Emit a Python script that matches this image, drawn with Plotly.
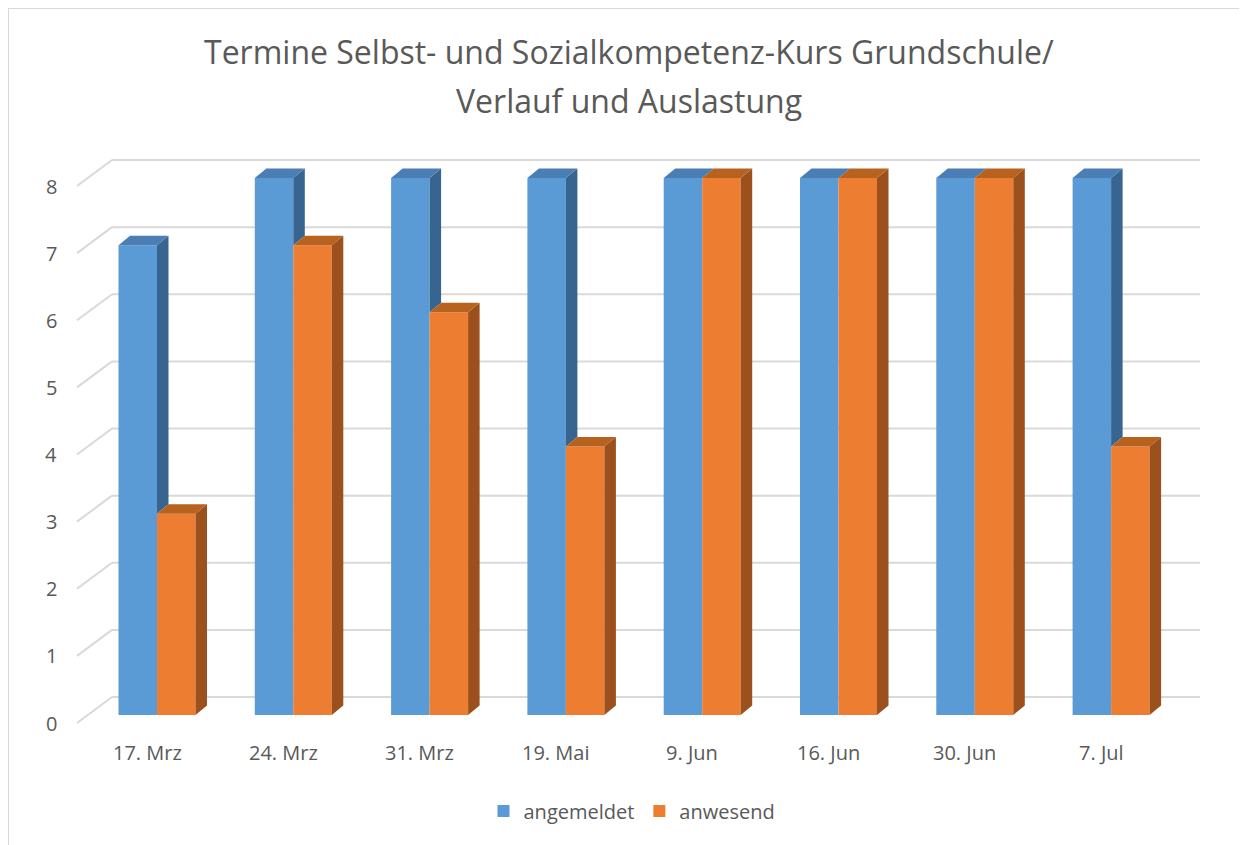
import plotly.graph_objects as go

# ---- data ----
categories = ["17. Mrz", "24. Mrz", "31. Mrz", "19. Mai", "9. Jun", "16. Jun", "30. Jun", "7. Jul"]
angemeldet = [7, 8, 8, 8, 8, 8, 8, 8]
anwesend = [3, 7, 6, 4, 8, 8, 8, 4]
y_ticks = [0, 1, 2, 3, 4, 5, 6, 7, 8]
title_lines = ["Termine Selbst- und Sozialkompetenz-Kurs Grundschule/", "Verlauf und Auslastung"]

# ---- geometry (page-pixel calibration; the page body adds an 8px margin) ----
W, H = 1247, 845
PAGE = 8
X0PX, XSTEP = 157.0, 136.3     # page pixel of category 0 centre, pixels per category
Y0PX, YSTEP = 715.0, 67.125    # page pixel of value 0, pixels per unit


def xv(p):
    return (p - X0PX) / XSTEP


def yv(p):
    return (Y0PX - p) / YSTEP


def px_paper_x(p):
    return (p - PAGE) / W


def px_paper_y(p):
    return 1 - (p - PAGE) / H


BW = 38.5 / XSTEP
DX = 11.5 / XSTEP
DY = 9.5 / YSTEP

FONT = "'Open Sans', sans-serif"
TXT = "#595959"

BLUE, BLUE_SIDE, BLUE_TOP = "#5B9BD5", "#386490", "#4A7EB5"
ORG, ORG_SIDE, ORG_TOP = "#ED7D31", "#9C501D", "#B8621F"

fig = go.Figure()

# front faces
fig.add_trace(go.Bar(x=list(range(len(categories))), y=angemeldet, width=BW, offset=-BW,
                     marker=dict(color=BLUE, line=dict(width=0)), name="angemeldet"))
fig.add_trace(go.Bar(x=list(range(len(categories))), y=anwesend, width=BW, offset=0,
                     marker=dict(color=ORG, line=dict(width=0)), name="anwesend"))


def side_poly(xr_, y0, y1):
    return ([xr_, xr_ + DX, xr_ + DX, xr_, xr_, None],
            [y0, y0 + DY, y1 + DY, y1, y0, None])


def top_poly(xl, xr_, y):
    return ([xl, xl + DX, xr_ + DX, xr_, xl, None],
            [y, y + DY, y + DY, y, y, None])


bsx, bsy, btx, bty, osx, osy, otx, oty = [], [], [], [], [], [], [], []
for i, (b, o) in enumerate(zip(angemeldet, anwesend)):
    lo = min(o, b)  # blue side visible only above the orange column
    px, py = side_poly(i, lo, b)
    bsx += px; bsy += py
    px, py = top_poly(i - BW, i, b)
    btx += px; bty += py
    px, py = side_poly(i + BW, 0, o)
    osx += px; osy += py
    px, py = top_poly(i, i + BW, o)
    otx += px; oty += py

for xs, ys, col in [(bsx, bsy, BLUE_SIDE), (btx, bty, BLUE_TOP), (osx, osy, ORG_SIDE), (otx, oty, ORG_TOP)]:
    fig.add_trace(go.Scatter(x=xs, y=ys, mode="lines", fill="toself", fillcolor=col,
                             line=dict(width=0, color=col), showlegend=False, hoverinfo="skip"))

# back-wall gridlines + floor diagonals
GRID = "#D9D9D9"
back_off = yv(697) - yv(715)
front_off = yv(723) - yv(715)
for v in y_ticks:
    fig.add_shape(type="line", xref="x", yref="y", x0=xv(77), y0=v + front_off,
                  x1=xv(112), y1=v + back_off, line=dict(color=GRID, width=2), layer="below")
    fig.add_shape(type="line", xref="x", yref="y", x0=xv(112), y0=v + back_off,
                  x1=xv(1200), y1=v + back_off, line=dict(color=GRID, width=2), layer="below")
    fig.add_annotation(x=xv(51), y=v + front_off, xref="x", yref="y", text=str(v),
                       showarrow=False, xanchor="center", yanchor="middle",
                       font=dict(family=FONT, size=20, color=TXT))

for i, c in enumerate(categories):
    fig.add_annotation(x=i - 10 / XSTEP, y=yv(752), xref="x", yref="y", text=c,
                       showarrow=False, xanchor="center", yanchor="middle",
                       font=dict(family=FONT, size=20, color=TXT))

for line, ypx in zip(title_lines, [52, 101]):
    fig.add_annotation(x=px_paper_x(629), y=px_paper_y(ypx), xref="paper", yref="paper", text=line,
                       showarrow=False, xanchor="center", yanchor="middle",
                       font=dict(family=FONT, size=32, color=TXT))

# chart border (left/top visible)
fig.add_shape(type="rect", xref="paper", yref="paper", x0=px_paper_x(8), y0=-0.05, x1=1.05,
              y1=px_paper_y(8), line=dict(color="#D9D9D9", width=2), layer="below")

fig.update_layout(
    width=W, height=H,
    margin=dict(l=0, r=0, t=0, b=0),
    paper_bgcolor="white", plot_bgcolor="white",
    xaxis=dict(range=[xv(PAGE), xv(PAGE + W)], visible=False, fixedrange=True),
    yaxis=dict(range=[yv(PAGE + H), yv(PAGE)], visible=False, fixedrange=True),
    showlegend=True,
    legend=dict(orientation="h", x=px_paper_x(632), xanchor="center", y=px_paper_y(811),
                yanchor="middle", font=dict(family=FONT, size=20, color=TXT),
                bgcolor="rgba(0,0,0,0)", itemwidth=30),
    barmode="overlay",
    font=dict(family=FONT, color=TXT),
)

fig.write_html("out.html")
